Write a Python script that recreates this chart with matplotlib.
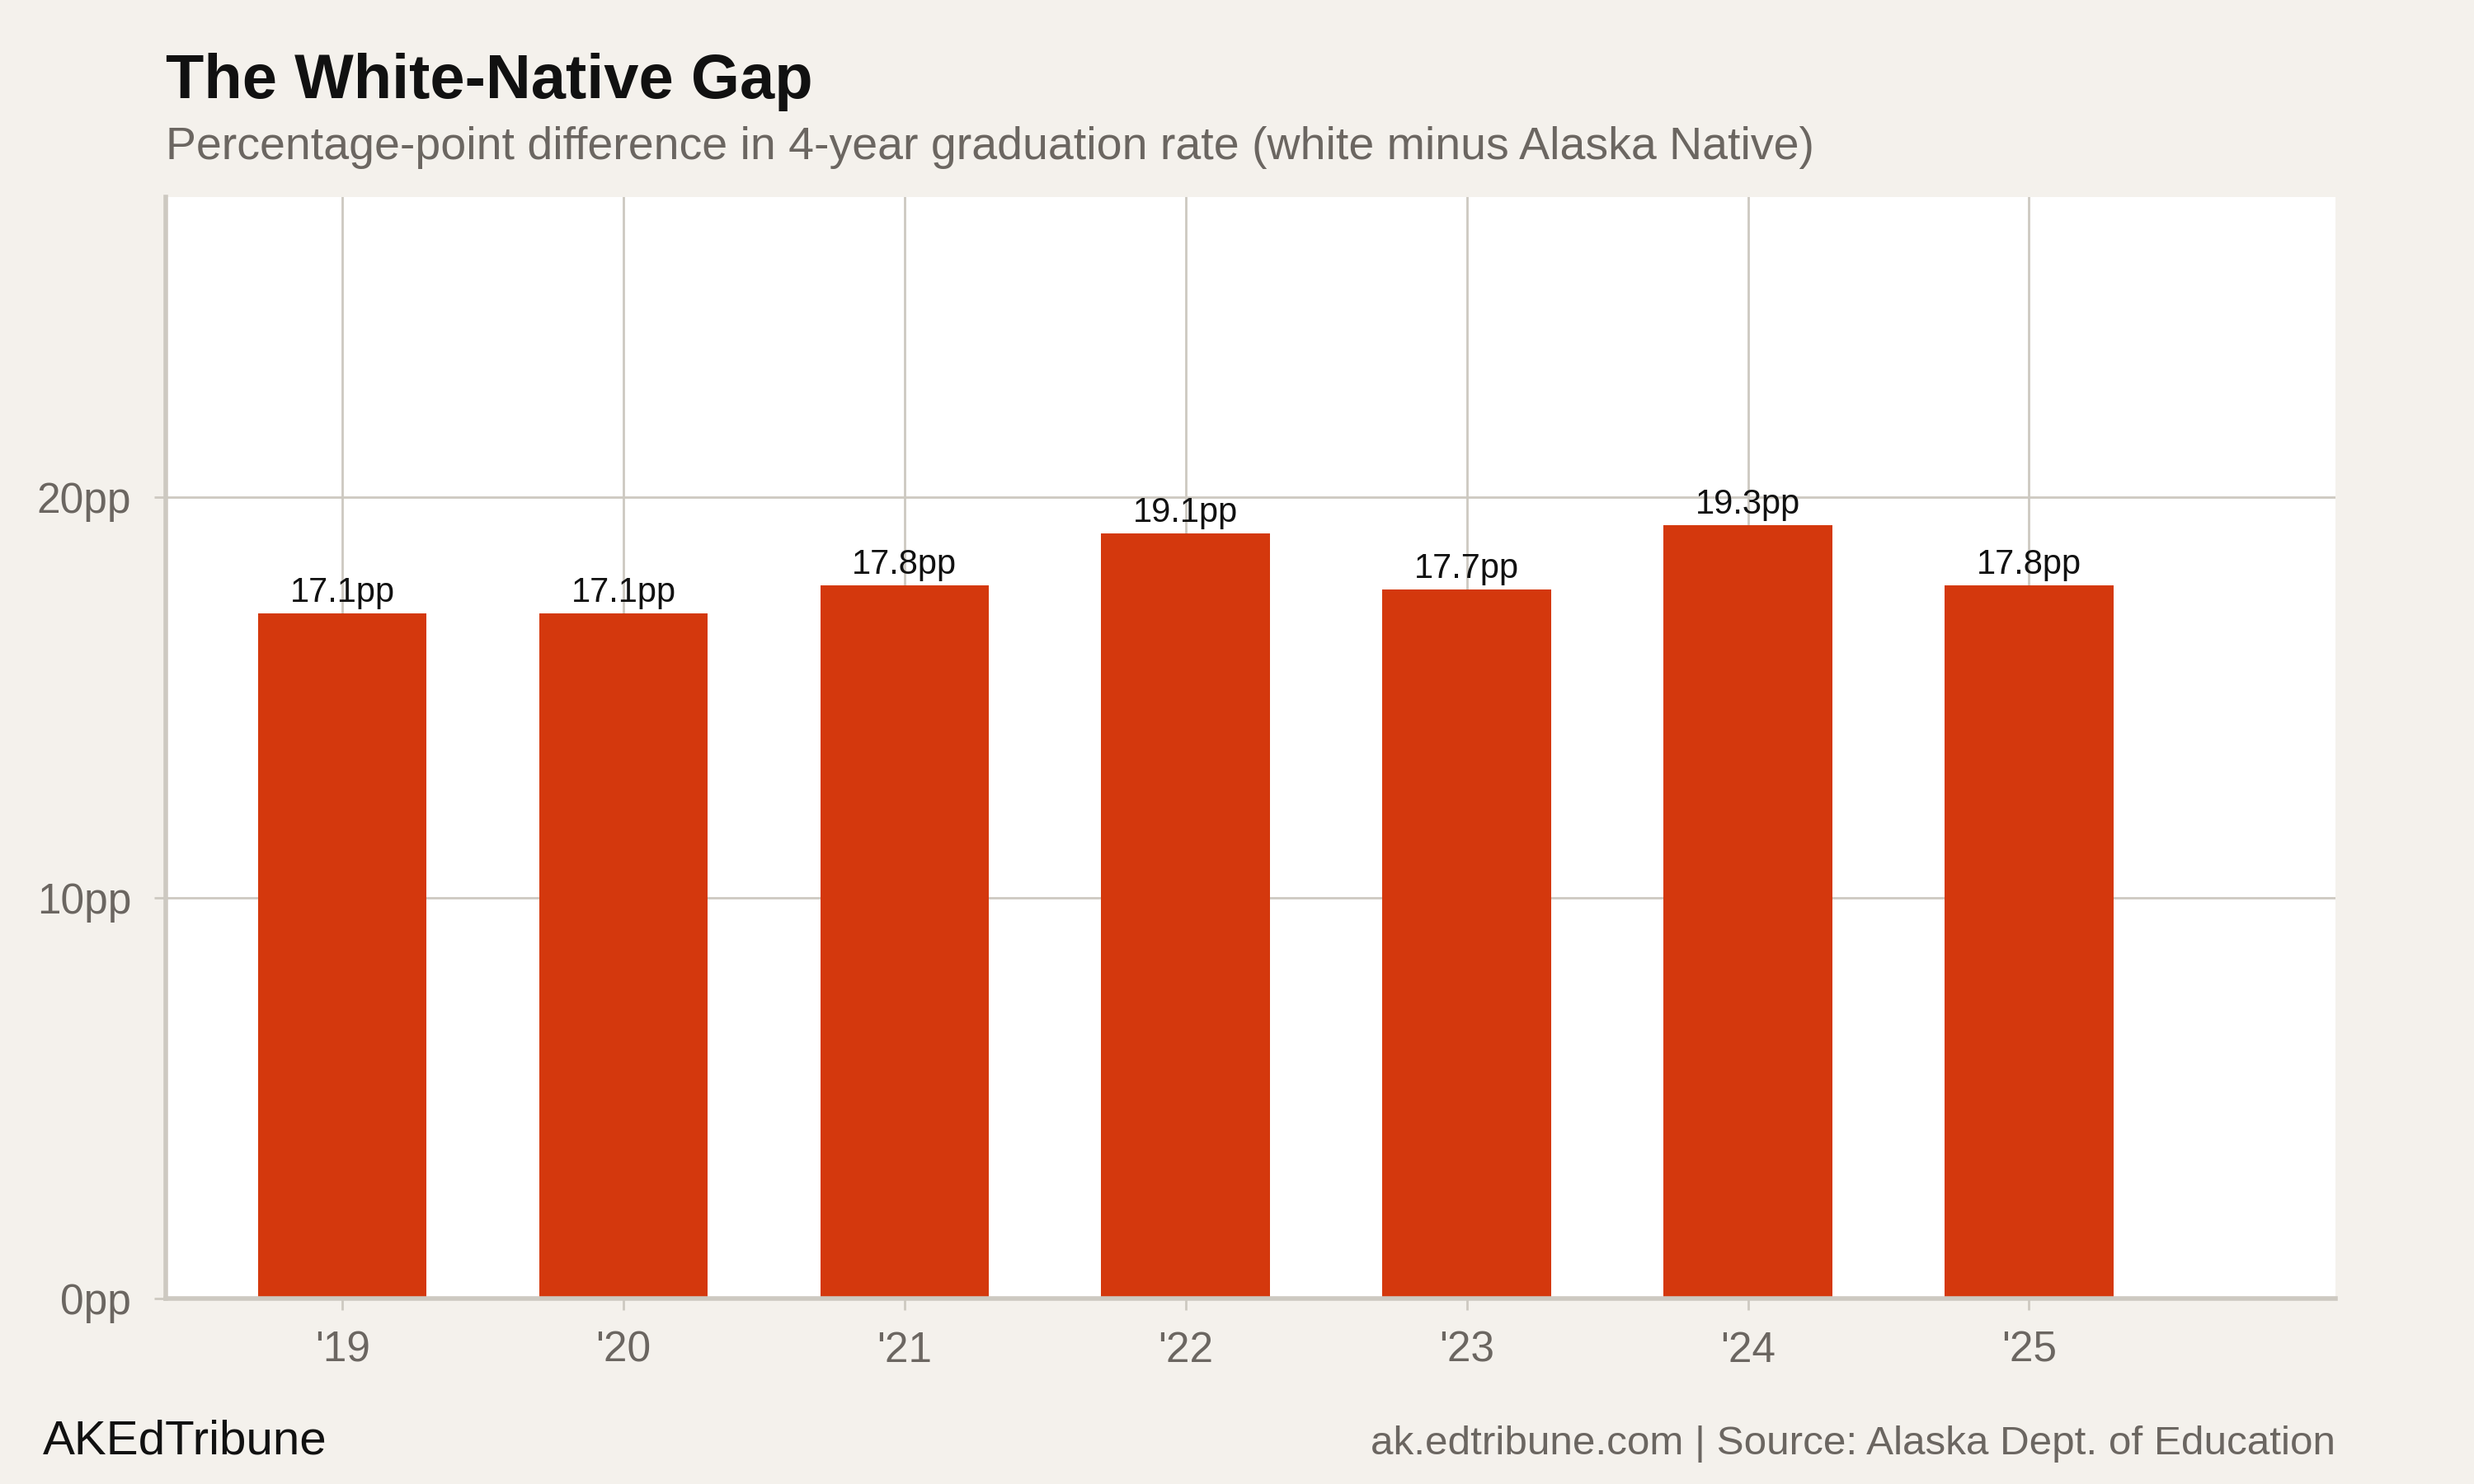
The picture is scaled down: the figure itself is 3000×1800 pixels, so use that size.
import matplotlib.pyplot as plt

# datos
years = ["'19", "'20", "'21", "'22", "'23", "'24", "'25"]
gap = [17.1, 17.1, 17.8, 19.1, 17.7, 19.3, 17.8]
y_ticks = [0, 10, 20]

bg = '#f4f1ec'
grid_c = '#cdc9c1'
grey_txt = '#6b6661'
bar_c = '#d4380d'

plt.rcParams['font.family'] = ['Liberation Sans', 'DejaVu Sans']

fig = plt.figure(figsize=(15, 9), dpi=200, facecolor=bg)
ax = fig.add_axes([201/3000, 1 - 1575/1800, (2832-201)/3000, (1575-239)/1800])
ax.set_facecolor('white')

x = list(range(len(years)))
bars = ax.bar(x, gap, width=0.6, color=bar_c, zorder=2)
for xi, v in zip(x, gap):
    ax.annotate(f'{v:.1f}pp', (xi, v), xytext=(0, 2), textcoords='offset points',
                ha='center', va='bottom', fontsize=15, color='#111111', zorder=3)

ax.set_xlim(-0.628, 7.09)
ax.set_ylim(0, 27.5)
ax.set_xticks(x, years)
ax.set_yticks(y_ticks, [f'{t}pp' for t in y_ticks])

ax.grid(True, color=grid_c, linewidth=1.0, zorder=0)
ax.set_axisbelow(True)
for s in ['top', 'right']:
    ax.spines[s].set_visible(False)
for s in ['left', 'bottom']:
    ax.spines[s].set_color(grid_c)
    ax.spines[s].set_linewidth(2.0)

ax.tick_params(axis='x', length=5, width=1.0, color=grid_c, pad=9,
               labelsize=18.5, labelcolor=grey_txt)
ax.tick_params(axis='y', length=5, width=1.0, color=grid_c, pad=10,
               labelsize=18.5, labelcolor=grey_txt)

# textos
fig.text(201/3000, 1 - 119/1800, 'The White-Native Gap', fontsize=27.3,
         fontweight='bold', color='#111111', ha='left', va='baseline')
fig.text(201/3000, 1 - 193/1800,
         'Percentage-point difference in 4-year graduation rate (white minus Alaska Native)',
         fontsize=20, color=grey_txt, ha='left', va='baseline')
fig.text(52/3000, 1 - 1764/1800, 'AKEdTribune', fontsize=21,
         color='#111111', ha='left', va='baseline')
fig.text(2832/3000, 1 - 1764/1800, 'ak.edtribune.com | Source: Alaska Dept. of Education',
         fontsize=17.8, color=grey_txt, ha='right', va='baseline')

fig.savefig('out.png', dpi=200, facecolor=bg)
